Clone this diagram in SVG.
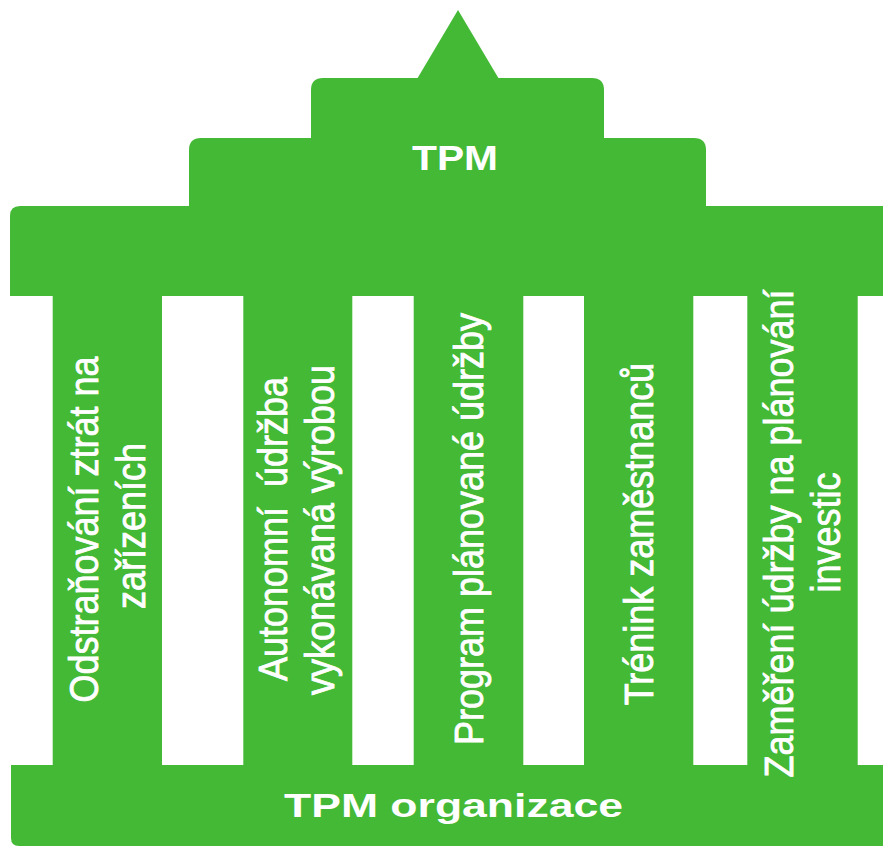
<svg xmlns="http://www.w3.org/2000/svg" width="883" height="846" viewBox="0 0 883 846">
  <style>
    .green { fill: #44b936; }
    .pillar-text { font-family: "Liberation Sans", Arial, sans-serif; font-size: 36px; fill: #ffffff; stroke: #ffffff; stroke-width: 0.7px; text-anchor: middle; }
    .title { font-family: "Liberation Sans", Arial, sans-serif; font-weight: bold; fill: #ffffff; text-anchor: middle; }
  </style>
  <rect width="883" height="846" fill="#ffffff"/>

  <!-- roof: spire, two stepped tiers and the entablature -->
  <g id="roof" class="green">
    <polygon points="417,79 458,10 499,79"/>
    <path d="M311,90 Q311,78 323,78 H592 Q604,78 604,90 V150 H311 Z"/>
    <path d="M189,150 Q189,138 201,138 H694 Q706,138 706,150 V215 H189 Z"/>
    <path d="M10,216 Q10,206 20,206 H883 V296 H10 Z"/>
    <text class="title" x="455" y="170" font-size="35" textLength="86" lengthAdjust="spacingAndGlyphs">TPM</text>
  </g>

  <!-- foundation -->
  <g id="foundation">
    <path class="green" d="M11,765 H883 V846 H19 Q11,846 11,838 Z"/>
    <text class="title" x="453.5" y="817" font-size="34" textLength="339" lengthAdjust="spacingAndGlyphs">TPM organizace</text>
  </g>

  <!-- pillars -->
  <g id="pillar1">
    <rect class="green" x="52.7" y="294" width="109.3" height="473"/>
    <text class="pillar-text" transform="translate(98,529.5) rotate(-90) scale(1,1.15)">Odstraňování ztrát na</text>
    <text class="pillar-text" transform="translate(145,526) rotate(-90) scale(1,1.15)">zařízeních</text>
  </g>
  <g id="pillar2">
    <rect class="green" x="243.3" y="294" width="109" height="473"/>
    <text class="pillar-text" transform="translate(287,529) rotate(-90) scale(1,1.15)" xml:space="preserve">Autonomní  údržba</text>
    <text class="pillar-text" transform="translate(334,530) rotate(-90) scale(1,1.15)">vykonávaná výrobou</text>
  </g>
  <g id="pillar3">
    <rect class="green" x="413.7" y="294" width="109.6" height="473"/>
    <text class="pillar-text" transform="translate(483,529) rotate(-90) scale(1,1.15)">Program plánované údržby</text>
  </g>
  <g id="pillar4">
    <rect class="green" x="584" y="294" width="109.3" height="473"/>
    <text class="pillar-text" transform="translate(653,534) rotate(-90) scale(1,1.15)">Trénink zaměstnanců</text>
  </g>
  <g id="pillar5">
    <rect class="green" x="747.3" y="294" width="110.4" height="473"/>
    <text class="pillar-text" transform="translate(793,533.5) rotate(-90) scale(1,1.15)">Zaměření údržby na plánování</text>
    <text class="pillar-text" transform="translate(840,532.5) rotate(-90) scale(1,1.15)">investic</text>
  </g>
</svg>
